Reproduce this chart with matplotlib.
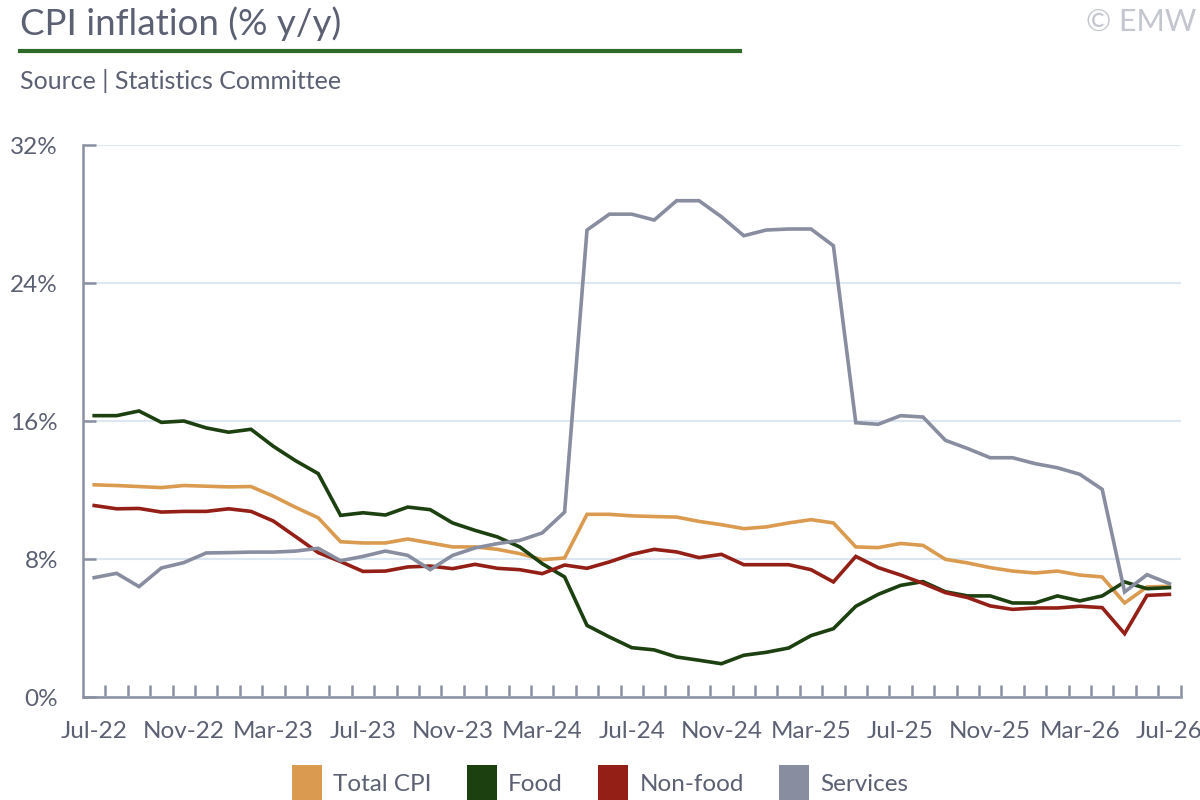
import matplotlib
matplotlib.use("Agg")
import numpy as np
from matplotlib import pyplot as plt
from matplotlib.patches import Patch
from matplotlib.lines import Line2D
from matplotlib.ticker import FixedLocator

plt.rcParams["font.family"] = ["Lato", "DejaVu Sans"]

# monthly, Jul-22 .. Jul-26
months = ["Jul", "Aug", "Sep", "Oct", "Nov", "Dec", "Jan", "Feb", "Mar", "Apr", "May", "Jun"]
labels = []
for k in range(49):
    yr = 22 + (6 + k) // 12
    labels.append(f"{months[k % 12]}-{yr}")

total_cpi = [12.30, 12.26, 12.20, 12.14, 12.26, 12.22, 12.18, 12.20, 11.64, 10.99,
             10.39, 9.00, 8.93, 8.93, 9.16, 8.93, 8.70, 8.70, 8.56, 8.31,
             7.96, 8.06, 10.59, 10.59, 10.50, 10.46, 10.43, 10.18, 9.99, 9.76,
             9.86, 10.09, 10.28, 10.09, 8.70, 8.66, 8.90, 8.79, 7.98, 7.77,
             7.50, 7.30, 7.19, 7.30, 7.07, 6.96, 5.45, 6.38, 6.42]
food = [16.31, 16.31, 16.58, 15.92, 16.00, 15.60, 15.35, 15.52, 14.53, 13.69,
        12.95, 10.53, 10.68, 10.55, 11.01, 10.86, 10.09, 9.66, 9.28, 8.70,
        7.73, 6.96, 4.15, 3.48, 2.86, 2.73, 2.32, 2.13, 1.93, 2.42,
        2.59, 2.84, 3.56, 3.96, 5.26, 5.95, 6.47, 6.69, 6.10, 5.86,
        5.86, 5.45, 5.45, 5.86, 5.57, 5.86, 6.67, 6.28, 6.34]
non_food = [11.10, 10.91, 10.93, 10.72, 10.76, 10.76, 10.91, 10.76, 10.20, 9.29,
            8.37, 7.85, 7.28, 7.30, 7.54, 7.59, 7.44, 7.69, 7.46, 7.38,
            7.15, 7.65, 7.46, 7.83, 8.27, 8.56, 8.41, 8.08, 8.27, 7.67,
            7.67, 7.67, 7.38, 6.67, 8.15, 7.50, 7.07, 6.59, 6.05, 5.76,
            5.28, 5.08, 5.16, 5.16, 5.26, 5.18, 3.67, 5.89, 5.95]
services = [6.92, 7.17, 6.40, 7.48, 7.79, 8.35, 8.37, 8.40, 8.40, 8.46,
            8.62, 7.90, 8.15, 8.46, 8.21, 7.38, 8.21, 8.64, 8.89, 9.08,
            9.51, 10.72, 27.07, 27.99, 27.99, 27.65, 28.77, 28.77, 27.84, 26.74,
            27.07, 27.13, 27.13, 26.16, 15.90, 15.81, 16.31, 16.23, 14.88, 14.40,
            13.87, 13.87, 13.53, 13.29, 12.91, 12.04, 6.09, 7.09, 6.57]

series = [("Total CPI", total_cpi, "#DA9B50"),
          ("Food", food, "#1C4010"),
          ("Non-food", non_food, "#931F16"),
          ("Services", services, "#888DA0")]

text_col = "#5B6073"
axis_col = "#8A90A3"

fig = plt.figure(figsize=(12, 8), dpi=100)
ax = fig.add_axes([83 / 1200, 1 - 697 / 800, (1180.6 - 83) / 1200, (697 - 145) / 800])

x = np.arange(len(labels))
for name, vals, col in series:
    ax.plot(x, vals, color=col, lw=2.6, solid_joinstyle="miter", label=name)

ax.set_xlim(-0.5, len(labels) - 0.5)
ax.set_ylim(0, 32)
ax.set_yticks([0, 8, 16, 24, 32])
ax.set_yticklabels([f"{v}%" for v in [0, 8, 16, 24, 32]])
ax.yaxis.grid(True, color="#DDE7F2", lw=1.5)
ax.set_axisbelow(True)

ax.set_xticks(x[::4])
ax.set_xticklabels(labels[::4])
ax.xaxis.set_minor_locator(FixedLocator(np.arange(0.5, len(labels), 1.0)))
ax.tick_params(axis="x", which="major", length=0, pad=17, labelsize=17.5, labelcolor=text_col)
ax.tick_params(axis="x", which="minor", direction="in", length=9, width=1.8, color=axis_col)
ax.tick_params(axis="y", direction="in", length=9, width=1.8, color=axis_col,
               pad=18, labelsize=17.5, labelcolor=text_col)

for s in ["top", "right"]:
    ax.spines[s].set_visible(False)
for s in ["left", "bottom"]:
    ax.spines[s].set_color(axis_col)
    ax.spines[s].set_linewidth(1.8)

fig.text(20 / 1200, 1 - 35 / 800, "CPI inflation (% y/y)", fontsize=26.5, color=text_col,
         ha="left", va="baseline")
fig.add_artist(Line2D([20 / 1200, 740 / 1200], [1 - 51 / 800, 1 - 51 / 800],
                      color="#2E6B2A", lw=3))
fig.text(20 / 1200, 1 - 89 / 800, "Source | Statistics Committee", fontsize=18,
         color=text_col, ha="left", va="baseline")
fig.text(1196 / 1200, 1 - 31 / 800, "© EMW", fontsize=22, color="#C3C6CE",
         ha="right", va="baseline")

handles = [Patch(facecolor=col, edgecolor="none") for _, _, col in series]
fig.legend(handles, [n for n, _, _ in series], loc="center", ncol=4,
           bbox_to_anchor=(0.5, 1 - 783 / 800), frameon=False, fontsize=17.5,
           handlelength=1.25, handleheight=1.9, handletextpad=0.45,
           columnspacing=1.45, labelcolor=text_col, borderaxespad=0, borderpad=0)

fig.savefig("out.png", dpi=100)
